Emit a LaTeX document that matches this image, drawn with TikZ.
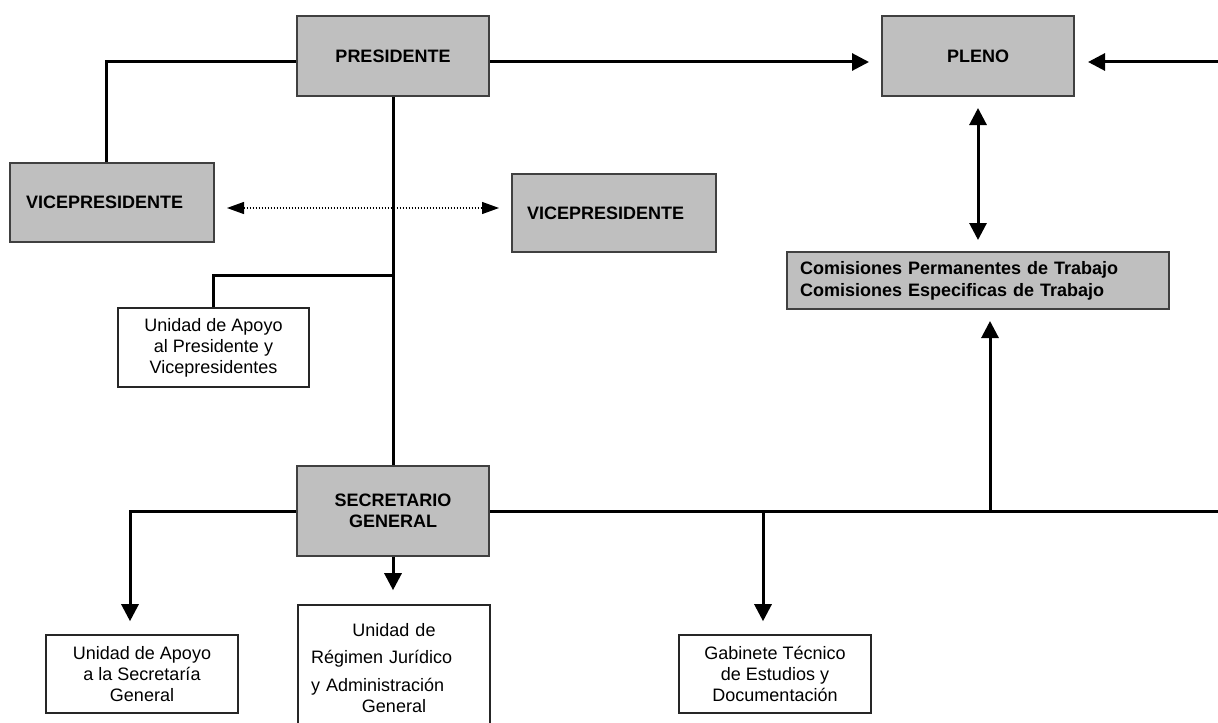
\documentclass[tikz,border=0pt]{standalone}
\usepackage{fontspec}
\setmainfont{Liberation Sans}
\usetikzlibrary{arrows.meta}
\begin{document}
\begin{tikzpicture}[x=0.5pt,y=-0.5pt,
	gris/.style={draw=black!75,line width=1pt,fill=black!25,font=\bfseries\fontsize{9}{10.5}\selectfont,inner sep=0pt,minimum width=96pt,minimum height=40pt},
	grisizq/.style={gris,align=left,inner xsep=#1},
	blanca/.style={draw=black!85,line width=0.8pt,fill=white,font=\fontsize{9}{10.5}\selectfont,align=center,inner sep=0pt,minimum width=96pt,minimum height=39pt},
	linea/.style={line width=1.5pt},
	flecha/.style={linea,-{Triangle[length=8.5pt,width=8.5pt]}},
	dobleflecha/.style={linea,{Triangle[length=8.5pt,width=8.5pt]}-{Triangle[length=8.5pt,width=8.5pt]}},
	punteada/.style={line width=0.6pt,dash pattern=on 0.6pt off 0.9pt,{Triangle[length=8.5pt,width=6pt]}-{Triangle[length=8.5pt,width=6pt]}}]
				\useasboundingbox (0,0) rectangle (1218,722);
				\clip (0,0) rectangle (1218,722);
				\node[gris] (pres) at (393,56) {PRESIDENTE};
				\node[gris] (pleno) at (978,56) {PLENO};
				\node[grisizq=8pt,text width=86pt,minimum height=39.5pt] (vpizq) at (112,202.5) {VICEPRESIDENTE};
				\node[grisizq=7.5pt,text width=86.75pt,minimum height=39pt] (vpder) at (613.75,213) {VICEPRESIDENTE};
				\node[grisizq=6.5pt,text width=178pt,minimum height=28.5pt,font=\bfseries\fontsize{9}{11}\selectfont] (comis) at (978,280.5) {Comisiones Permanentes de Trabajo\\Comisiones Especificas de Trabajo};
				\node[blanca,minimum width=95.5pt,minimum height=39.5pt] (apoyopres) at (213.5,347.5) {Unidad de Apoyo\\al Presidente y\\Vicepresidentes};
				\node[gris,align=center,minimum height=45pt] (secgen) at (393,511) {SECRETARIO\\GENERAL};
				\node[blanca] (apoyosec) at (142,674) {Unidad de Apoyo\\a la Secretaría\\General};
				\node[blanca,align=left,text width=96pt,inner xsep=0pt,minimum height=63.5pt] (regimen) at (394,668.5) {\makebox[\linewidth]{Unidad de}\\[3pt]\hspace*{6.5pt}Régimen Jurídico\\[3.5pt]\hspace*{6.5pt}y Administración\\\makebox[\linewidth]{General}};
				\node[blanca] (gabinete) at (775,674) {Gabinete Técnico\\de Estudios y\\Documentación};
				\coordinate (nivel) at (0,62);
				\coordinate (borde) at (1218,62);
				\coordinate (codo) at (106,62);
				\coordinate (ramaapoyo) at (213.5,275);
				\coordinate (punteado) at (0,208);
				\coordinate (codosec) at (130,511);
				\coordinate (bordesec) at (1218,511);
				\coordinate (ramagab) at (763,511);
				\coordinate (ramacom) at (990,511);
				\draw[linea] (pres.south) -- (secgen.north);
				\draw[linea] (pres.west |- nivel) -- (codo) -- (codo |- vpizq.north);
				\draw[flecha,shorten >=6pt] (pres.east |- nivel) -- (pleno.west |- nivel);
				\draw[flecha,shorten >=6.5pt] (borde) -- (pleno.east |- nivel);
				\draw[dobleflecha,shorten <=5.5pt,shorten >=5.5pt] (pleno.south) -- (comis.north);
				\draw[punteada,shorten <=6pt,shorten >=6pt] (vpizq.east |- punteado) -- (vpder.west |- punteado);
				\draw[linea] (pres.south |- ramaapoyo) -- (ramaapoyo) -- (apoyopres.north);
				\draw[linea] (secgen.east) -- (bordesec);
				\draw[flecha,shorten >=6.5pt] (secgen.west) -- (codosec) -- (codosec |- apoyosec.north);
				\draw[flecha,shorten >=7pt] (secgen.south) -- (secgen.south |- regimen.north);
				\draw[flecha,shorten >=6.5pt] (ramagab) -- (ramagab |- gabinete.north);
				\draw[flecha,shorten >=5.5pt] (ramacom) -- (ramacom |- comis.south);
\end{tikzpicture}
\end{document}
